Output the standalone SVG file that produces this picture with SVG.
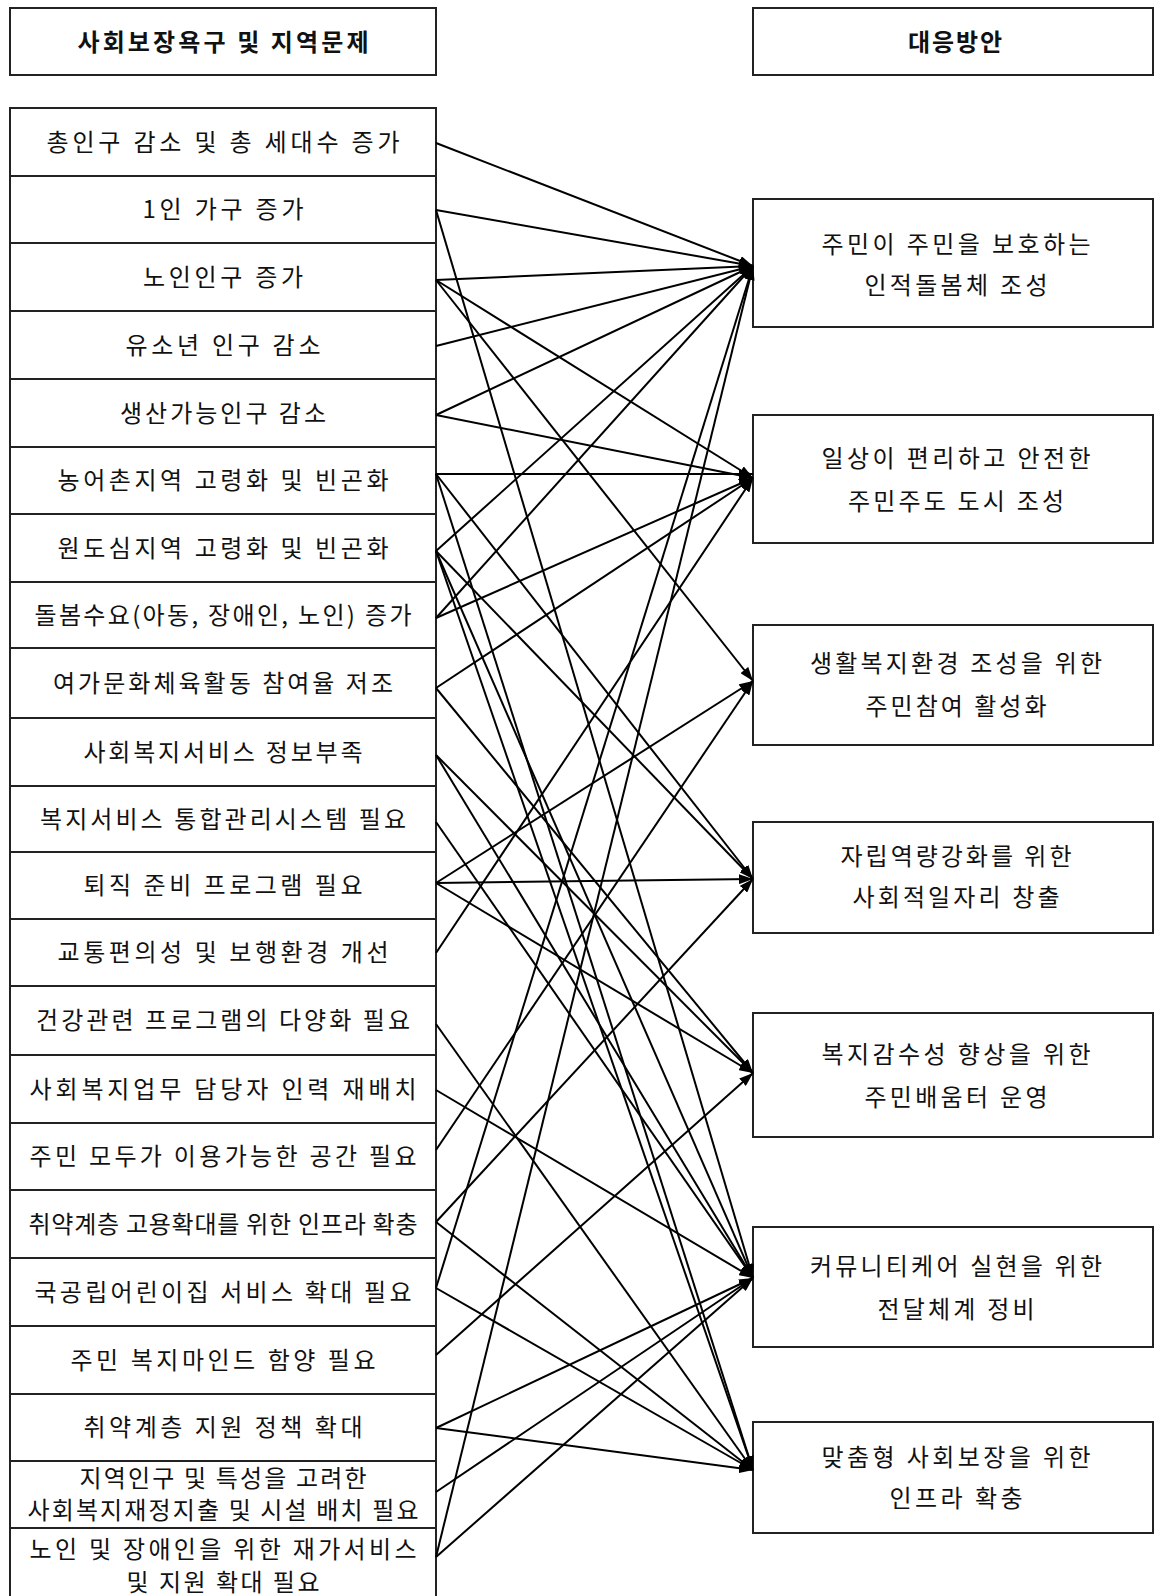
<svg xmlns="http://www.w3.org/2000/svg" width="1155" height="1596" viewBox="0 0 1155 1596">
<defs>
<style>
.bx{fill:#fff;stroke:#222;stroke-width:2}
.t{font-family:"Noto Sans CJK KR","Noto Sans",sans-serif;font-size:24px;fill:#111;text-anchor:middle}
.h{font-family:"Noto Sans CJK KR","Noto Sans",sans-serif;font-size:24px;font-weight:bold;fill:#111;text-anchor:middle}
.ln{stroke:#000;stroke-width:2;fill:none;marker-end:url(#ah)}
</style>
<marker id="ah" markerWidth="14" markerHeight="10" refX="14" refY="5" orient="auto" markerUnits="userSpaceOnUse"><path d="M0,0 L14,5 L0,10 z" fill="#000"/></marker>
</defs>
<rect width="1155" height="1596" fill="#fff"/>
<g id="header-left"><rect class="bx" x="10" y="8" width="426" height="67"/><text class="h" x="223" y="51" textLength="291" lengthAdjust="spacing">사회보장욕구 및 지역문제</text></g>
<g id="header-right"><rect class="bx" x="753" y="8" width="400" height="67"/><text class="h" x="955" y="51" textLength="94" lengthAdjust="spacing">대응방안</text></g>

<g id="left-nodes">
<g id="L0"><rect class="bx" x="10" y="108" width="426" height="68"/><text class="t" x="223" y="151" textLength="353" lengthAdjust="spacing">총인구 감소 및 총 세대수 증가</text></g>
<g id="L1"><rect class="bx" x="10" y="176" width="426" height="67"/><text class="t" x="223" y="218" textLength="161" lengthAdjust="spacing">1인 가구 증가</text></g>
<g id="L2"><rect class="bx" x="10" y="243" width="426" height="68"/><text class="t" x="223" y="286" textLength="160" lengthAdjust="spacing">노인인구 증가</text></g>
<g id="L3"><rect class="bx" x="10" y="311" width="426" height="68"/><text class="t" x="223" y="354" textLength="195" lengthAdjust="spacing">유소년 인구 감소</text></g>
<g id="L4"><rect class="bx" x="10" y="379" width="426" height="68"/><text class="t" x="223" y="422" textLength="206" lengthAdjust="spacing">생산가능인구 감소</text></g>
<g id="L5"><rect class="bx" x="10" y="447" width="426" height="67"/><text class="t" x="223" y="489" textLength="331" lengthAdjust="spacing">농어촌지역 고령화 및 빈곤화</text></g>
<g id="L6"><rect class="bx" x="10" y="514" width="426" height="68"/><text class="t" x="223" y="557" textLength="331" lengthAdjust="spacing">원도심지역 고령화 및 빈곤화</text></g>
<g id="L7"><rect class="bx" x="10" y="582" width="426" height="66"/><text class="t" x="223" y="624" textLength="377" lengthAdjust="spacing">돌봄수요(아동, 장애인, 노인) 증가</text></g>
<g id="L8"><rect class="bx" x="10" y="648" width="426" height="70"/><text class="t" x="223" y="692" textLength="340" lengthAdjust="spacing">여가문화체육활동 참여율 저조</text></g>
<g id="L9"><rect class="bx" x="10" y="718" width="426" height="68"/><text class="t" x="223" y="761" textLength="279" lengthAdjust="spacing">사회복지서비스 정보부족</text></g>
<g id="L10"><rect class="bx" x="10" y="786" width="426" height="66"/><text class="t" x="223" y="828" textLength="366" lengthAdjust="spacing">복지서비스 통합관리시스템 필요</text></g>
<g id="L11"><rect class="bx" x="10" y="852" width="426" height="67"/><text class="t" x="223" y="894" textLength="279" lengthAdjust="spacing">퇴직 준비 프로그램 필요</text></g>
<g id="L12"><rect class="bx" x="10" y="919" width="426" height="67"/><text class="t" x="223" y="961" textLength="331" lengthAdjust="spacing">교통편의성 및 보행환경 개선</text></g>
<g id="L13"><rect class="bx" x="10" y="986" width="426" height="69"/><text class="t" x="223" y="1029" textLength="374" lengthAdjust="spacing">건강관련 프로그램의 다양화 필요</text></g>
<g id="L14"><rect class="bx" x="10" y="1055" width="426" height="68"/><text class="t" x="223" y="1098" textLength="387" lengthAdjust="spacing">사회복지업무 담당자  인력 재배치</text></g>
<g id="L15"><rect class="bx" x="10" y="1123" width="426" height="67"/><text class="t" x="223" y="1165" textLength="387" lengthAdjust="spacing">주민 모두가 이용가능한 공간 필요</text></g>
<g id="L16"><rect class="bx" x="10" y="1190" width="426" height="68"/><text class="t" x="223" y="1233" textLength="389" lengthAdjust="spacing">취약계층 고용확대를 위한 인프라 확충</text></g>
<g id="L17"><rect class="bx" x="10" y="1258" width="426" height="68"/><text class="t" x="223" y="1301" textLength="377" lengthAdjust="spacing">국공립어린이집 서비스 확대 필요</text></g>
<g id="L18"><rect class="bx" x="10" y="1326" width="426" height="68"/><text class="t" x="223" y="1369" textLength="305" lengthAdjust="spacing">주민 복지마인드 함양 필요</text></g>
<g id="L19"><rect class="bx" x="10" y="1394" width="426" height="67"/><text class="t" x="223" y="1436" textLength="279" lengthAdjust="spacing">취약계층 지원 정책 확대</text></g>
<g id="L20"><rect class="bx" x="10" y="1461" width="426" height="67"/><text class="t" x="223" y="1487" textLength="287" lengthAdjust="spacing">지역인구 및 특성을 고려한</text><text class="t" x="223" y="1519" textLength="391" lengthAdjust="spacing">사회복지재정지출 및 시설 배치 필요</text></g>
<g id="L21"><rect class="bx" x="10" y="1528" width="426" height="80"/><text class="t" x="223" y="1558" textLength="387" lengthAdjust="spacing">노인 및 장애인을 위한 재가서비스</text><text class="t" x="223" y="1591" textLength="193" lengthAdjust="spacing">및 지원 확대 필요</text></g>
</g>

<g id="right-nodes">
<g id="R1"><rect class="bx" x="753" y="199" width="400" height="128"/><text class="t" x="956" y="253" textLength="269" lengthAdjust="spacing">주민이 주민을 보호하는</text><text class="t" x="956" y="294" textLength="183" lengthAdjust="spacing">인적돌봄체 조성</text></g>
<g id="R2"><rect class="bx" x="753" y="415" width="400" height="128"/><text class="t" x="956" y="467" textLength="269" lengthAdjust="spacing">일상이 편리하고 안전한</text><text class="t" x="956" y="510" textLength="216" lengthAdjust="spacing">주민주도 도시 조성</text></g>
<g id="R3"><rect class="bx" x="753" y="625" width="400" height="120"/><text class="t" x="956" y="672" textLength="292" lengthAdjust="spacing">생활복지환경 조성을 위한</text><text class="t" x="956" y="715" textLength="181" lengthAdjust="spacing">주민참여 활성화</text></g>
<g id="R4"><rect class="bx" x="753" y="822" width="400" height="111"/><text class="t" x="956" y="865" textLength="231" lengthAdjust="spacing">자립역량강화를 위한</text><text class="t" x="956" y="906" textLength="207" lengthAdjust="spacing">사회적일자리 창출</text></g>
<g id="R5"><rect class="bx" x="753" y="1013" width="400" height="124"/><text class="t" x="956" y="1063" textLength="269" lengthAdjust="spacing">복지감수성 향상을 위한</text><text class="t" x="956" y="1106" textLength="183" lengthAdjust="spacing">주민배움터 운영</text></g>
<g id="R6"><rect class="bx" x="753" y="1227" width="400" height="120"/><text class="t" x="956" y="1275" textLength="292" lengthAdjust="spacing">커뮤니티케어 실현을 위한</text><text class="t" x="956" y="1318" textLength="157" lengthAdjust="spacing">전달체계 정비</text></g>
<g id="R7"><rect class="bx" x="753" y="1422" width="400" height="111"/><text class="t" x="956" y="1466" textLength="269" lengthAdjust="spacing">맞춤형 사회보장을 위한</text><text class="t" x="956" y="1507" textLength="133" lengthAdjust="spacing">인프라 확충</text></g>
</g>

<g id="connectors">
<line class="ln" x1="436" y1="143" x2="753" y2="266"/>
<line class="ln" x1="436" y1="210" x2="753" y2="266"/>
<line class="ln" x1="436" y1="210" x2="753" y2="1278"/>
<line class="ln" x1="436" y1="280" x2="753" y2="266"/>
<line class="ln" x1="436" y1="280" x2="753" y2="478"/>
<line class="ln" x1="436" y1="280" x2="753" y2="681"/>
<line class="ln" x1="436" y1="346" x2="753" y2="266"/>
<line class="ln" x1="436" y1="415" x2="753" y2="266"/>
<line class="ln" x1="436" y1="415" x2="753" y2="478"/>
<line class="ln" x1="436" y1="474" x2="753" y2="474"/>
<line class="ln" x1="436" y1="474" x2="753" y2="879"/>
<line class="ln" x1="436" y1="474" x2="753" y2="1470"/>
<line class="ln" x1="436" y1="551" x2="753" y2="266"/>
<line class="ln" x1="436" y1="551" x2="753" y2="879"/>
<line class="ln" x1="436" y1="551" x2="753" y2="1278"/>
<line class="ln" x1="436" y1="551" x2="753" y2="1470"/>
<line class="ln" x1="436" y1="618" x2="753" y2="266"/>
<line class="ln" x1="436" y1="618" x2="753" y2="478"/>
<line class="ln" x1="436" y1="688" x2="753" y2="478"/>
<line class="ln" x1="436" y1="688" x2="753" y2="1073"/>
<line class="ln" x1="436" y1="755" x2="753" y2="1073"/>
<line class="ln" x1="436" y1="755" x2="753" y2="1278"/>
<line class="ln" x1="436" y1="822" x2="753" y2="1278"/>
<line class="ln" x1="436" y1="883" x2="753" y2="681"/>
<line class="ln" x1="436" y1="883" x2="753" y2="879"/>
<line class="ln" x1="436" y1="883" x2="753" y2="1073"/>
<line class="ln" x1="436" y1="953" x2="753" y2="478"/>
<line class="ln" x1="436" y1="1024" x2="753" y2="1470"/>
<line class="ln" x1="436" y1="1090" x2="753" y2="1278"/>
<line class="ln" x1="436" y1="1150" x2="753" y2="681"/>
<line class="ln" x1="436" y1="1222" x2="753" y2="879"/>
<line class="ln" x1="436" y1="1222" x2="753" y2="1470"/>
<line class="ln" x1="436" y1="1288" x2="753" y2="266"/>
<line class="ln" x1="436" y1="1288" x2="753" y2="1470"/>
<line class="ln" x1="436" y1="1355" x2="753" y2="1073"/>
<line class="ln" x1="436" y1="1428" x2="753" y2="1278"/>
<line class="ln" x1="436" y1="1428" x2="753" y2="1470"/>
<line class="ln" x1="436" y1="1492" x2="753" y2="1278"/>
<line class="ln" x1="436" y1="1557" x2="753" y2="266"/>
<line class="ln" x1="436" y1="1557" x2="753" y2="1278"/>
</g>
</svg>
